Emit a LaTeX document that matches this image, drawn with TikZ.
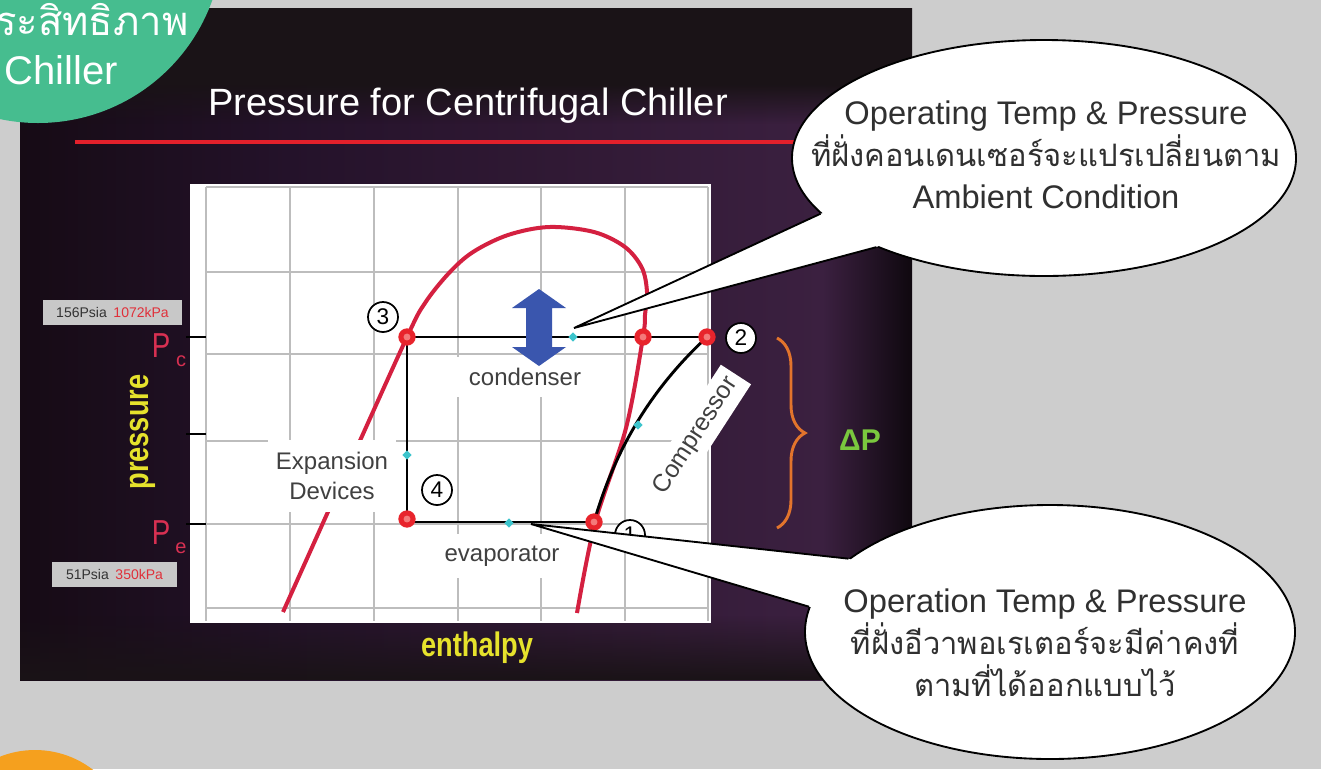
\documentclass[tikz,border=0pt]{standalone}
\usepackage{fontspec}
\setmainfont{Liberation Sans}
\newfontfamily\narrowsans[FakeStretch=0.8]{Liberation Sans}
\newfontfamily\thaifont[Script=Thai]{Loma}
\usetikzlibrary{shapes.geometric,decorations.pathreplacing,fadings,calc}

\definecolor{pagegray}{HTML}{CDCDCD}
\definecolor{badgegreen}{HTML}{46BD8F}
\definecolor{badgeorange}{HTML}{F5A01E}
\definecolor{panelA}{HTML}{160B15}
\definecolor{panelAB}{HTML}{24122A}
\definecolor{panelB}{HTML}{301934}
\definecolor{panelC}{HTML}{3B2040}
\definecolor{panelD}{HTML}{0F080F}
\definecolor{paneltop}{HTML}{1A1317}
\definecolor{titlered}{HTML}{E3202B}
\definecolor{domered}{HTML}{D42040}
\definecolor{dotred}{HTML}{E8242C}
\definecolor{dotshine}{HTML}{F47A7A}
\definecolor{dotcyan}{HTML}{3CC4CC}
\definecolor{arrowblue}{HTML}{3A56AE}
\definecolor{gridgray}{HTML}{BDBDBD}
\definecolor{axisyellow}{HTML}{E6E22C}
\definecolor{pred}{HTML}{D83052}
\definecolor{braceorange}{HTML}{E2742C}
\definecolor{dpgreen}{HTML}{7AC83E}
\definecolor{taggray}{HTML}{C8C8C8}
\definecolor{tagtext}{HTML}{333333}
\definecolor{tagred}{HTML}{E0303A}
\definecolor{labelgray}{HTML}{404040}
\definecolor{bubbleink}{HTML}{303030}

% background glow of the slide panel, dark at both sides
\pgfdeclarehorizontalshading{panelglow}{100bp}{color(0bp)=(panelA); color(25bp)=(panelA); color(40bp)=(panelAB); color(55bp)=(panelB); color(70bp)=(panelC); color(75bp)=(panelD); color(100bp)=(panelD)}
\tikzfading[name=fadedown, top color=transparent!0, bottom color=transparent!100]
\tikzfading[name=fadeup, top color=transparent!100, bottom color=transparent!0]

\begin{document}
\begin{tikzpicture}[x=0.75pt,y=-0.75pt,
  gridline/.style={draw=gridgray, line width=2.2pt},
  cycleline/.style={draw=black, line width=2.2pt},
  chartlabel/.style={fill=white, text=labelgray, inner sep=0pt, align=center,
    font=\fontsize{18}{22.5}\selectfont},
  reddot/.style={circle, fill=dotred, minimum size=13pt, inner sep=0pt,
    path picture={\fill[dotshine] (path picture bounding box.center) circle (2.6pt);}},
  cyandot/.style={diamond, fill=dotcyan, minimum size=7pt, inner sep=0pt},
  statenum/.style={circle, draw=black, line width=1.3pt, fill=white, minimum size=22.5pt,
    inner sep=0pt, font=\fontsize{17}{18}\selectfont},
  tagbox/.style={fill=taggray, inner sep=0pt, font=\fontsize{10.5}{12}\selectfont},
  axislabel/.style={text=axisyellow, font=\narrowsans\bfseries\fontsize{25.5}{28}\selectfont},
  bubble/.style={ellipse, draw=black, fill=white, line width=1.4pt, inner sep=0pt},
  bubbletext/.style={text=bubbleink, align=center, font=\fontsize{24.5}{31.5}\selectfont},
  thailine/.style={font=\thaifont\fontsize{23.2}{31.5}\selectfont},
]
\useasboundingbox (0,0) rectangle (1321,769);
\clip (0,0) rectangle (1321,769);
\fill[pagegray] (0,0) rectangle (1321,769);

% slide panel
\shade[shading=panelglow] (20,8) rectangle (912,680);
\fill[paneltop] (20,8) rectangle (912,84);
\fill[paneltop, path fading=fadedown] (20,84) rectangle (912,124);
\fill[paneltop, path fading=fadeup] (20,615) rectangle (912,680);

% corner badges
\fill[badgegreen] (38,-62) circle[radius=138.75pt];
\node[anchor=west, text=white, inner sep=0pt, font=\thaifont\fontsize{30}{32}\selectfont] (badgethai) at (-5,20) {ระสิทธิภาพ};
\node[anchor=west, text=white, inner sep=0pt, font=\fontsize{30}{32}\selectfont] (badgechiller) at (4,70) {Chiller};
\fill[badgeorange] (35,845) circle[radius=71.25pt];

% title
\node[text=white, font=\fontsize{28.5}{31}\selectfont] (title) at (468,106) {Pressure for Centrifugal Chiller};
\draw[titlered, line width=3.6pt] (75,142) -- (860,142);

% chart area and grid
\fill[white] (190,184) rectangle (711,623);
\foreach \gx in {206,290,374,458,541,625,708} \draw[gridline] (\gx,187) -- (\gx,621);
\foreach \gy in {187,272,354,441,524,608} \draw[gridline] (206,\gy) -- (708,\gy);

% pressure ticks
\draw[cycleline] (186,337) -- (206,337);
\draw[cycleline] (186,434) -- (206,434);
\draw[cycleline] (186,524) -- (206,524);

% saturation dome
\draw[domered, line width=3pt] plot[smooth, tension=0.55] coordinates {(283,612) (345,474) (407,337) (425,303) (449,273) (473,252) (508,235) (549,227) (594,232) (625,247) (642,268) (647,292) (645,315) (643,337) (626,428) (595,523) (577,613)};

% process labels
\node[chartlabel, minimum width=96pt, minimum height=54pt] (expansion) at (332,476) {Expansion\\Devices};
\node[chartlabel, minimum width=125pt, minimum height=30pt] (condenser) at (525,377) {condenser};
\node[chartlabel, minimum width=101pt, minimum height=33pt] (evaporator) at (502,556) {evaporator};
\node[chartlabel, rotate=57, minimum width=110pt, minimum height=27pt, font=\fontsize{18.5}{20}\selectfont] (compressor) at (696,436) {Compressor};

% refrigeration cycle
\coordinate (s1) at (594,522);
\coordinate (s2) at (707,337);
\coordinate (s3) at (407,337);
\coordinate (s4) at (407,519);
\coordinate (sv) at (643,337);
\draw[cycleline] (s3) -- (s2);
\draw[cycleline] (s3) -- (s4);
\draw[cycleline] (s4) |- (s1);
\draw[cycleline] (s1) .. controls (615,450) and (650,390) .. (s2);

\node[cyandot] (midcond) at (573,337) {};
\node[cyandot] (midexp) at (407,455) {};
\node[cyandot] (midevap) at (509,523) {};
\node[cyandot] (midcomp) at (638,425) {};

\node[reddot] (dot1) at (s1) {};
\node[reddot] (dot2) at (s2) {};
\node[reddot] (dot3) at (s3) {};
\node[reddot] (dot4) at (s4) {};
\node[reddot] (dotv) at (sv) {};

% condenser pressure shift
\fill[arrowblue] (539,289) -- (566,308) -- (552,308) -- (552,347) -- (566,347) -- (539,366)
  -- (512,347) -- (526,347) -- (526,308) -- (512,308) -- cycle;

% state numbers
\node[statenum] (n3) at (383,317) {3};
\node[statenum] (n4) at (437,490) {4};
\node[statenum] (n1) at (630,535) {1};
\node[statenum] (n2) at (741,338) {2};

% axis annotations
\node[tagbox, minimum width=104pt, minimum height=19pt] (tagc) at (112.5,312.5) {\textcolor{tagtext}{156Psia}\hspace{5pt}\textcolor{tagred}{1072kPa}};
\node[tagbox, minimum width=94pt, minimum height=19pt] (tage) at (114.5,574.5) {\textcolor{tagtext}{51Psia}\hspace{5pt}\textcolor{tagred}{350kPa}};
\node[text=pred, inner sep=0pt, font=\narrowsans\fontsize{26}{28}\selectfont] (pc) at (161,346) {P};
\node[text=pred, inner sep=0pt, font=\fontsize{15}{16}\selectfont] (pcsub) at (181,361) {c};
\node[text=pred, inner sep=0pt, font=\narrowsans\fontsize{26}{28}\selectfont] (pe) at (161,533) {P};
\node[text=pred, inner sep=0pt, font=\fontsize{15}{16}\selectfont] (pesub) at (181,548) {e};
\node[axislabel, rotate=90] (ylabel) at (143,432) {pressure};
\node[axislabel] (xlabel) at (477,648) {enthalpy};

% pressure difference
\coordinate (bracetop) at (777,338);
\coordinate (bracebot) at (777,528);
\draw[braceorange, line width=2.2pt, decorate, decoration={brace, amplitude=21pt}] (bracetop) -- (bracebot);
\node[text=dpgreen, font=\bfseries\fontsize{22.5}{24}\selectfont] (deltap) at (860,440) {ΔP};

% callout: condenser side
\node[bubble, minimum width=378pt, minimum height=177pt] (calloutA) at (1044,158) {};
\coordinate (tipA) at (574,328);
\fill[white] (tipA) -- (calloutA.194) -- ($(calloutA.194)!6pt!(calloutA.center)$)
  -- ($(calloutA.208)!6pt!(calloutA.center)$) -- (calloutA.208) -- cycle;
\draw[line width=1.4pt] (calloutA.194) -- (tipA) -- (calloutA.208);
\node[bubbletext] (textA) at (1046,155) {Operating Temp \& Pressure\\{\thaifont\fontsize{23.2}{31.5}\selectfont ที่ฝั่งคอนเดนเซอร์จะแปรเปลี่ยนตาม}\\Ambient Condition};

% callout: evaporator side
\node[bubble, minimum width=367.5pt, minimum height=190.5pt] (calloutB) at (1050,632) {};
\coordinate (tipB) at (531,524);
\fill[white] (tipB) -- (calloutB.160) -- ($(calloutB.160)!6pt!(calloutB.center)$)
  -- ($(calloutB.174)!6pt!(calloutB.center)$) -- (calloutB.174) -- cycle;
\draw[line width=1.4pt] (calloutB.160) -- (tipB) -- (calloutB.174);
\node[bubbletext] (textB) at (1045,643) {Operation Temp \& Pressure\\{\thaifont\fontsize{23.2}{31.5}\selectfont ที่ฝั่งอีวาพอเรเตอร์จะมีค่าคงที่}\\{\thaifont\fontsize{23.2}{31.5}\selectfont ตามที่ได้ออกแบบไว้}};
\end{tikzpicture}
\end{document}
